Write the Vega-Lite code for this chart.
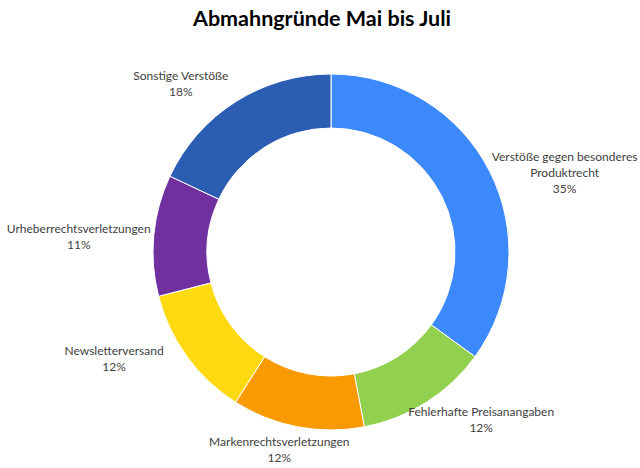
{
  "$schema": "https://vega.github.io/schema/vega-lite/v6.json",
  "autosize": {"type": "fit", "contains": "padding"},
  "width": 640,
  "height": 468,
  "padding": {"left": 17, "right": 0, "top": 8, "bottom": 2},
  "background": "white",
  "title": {
    "text": "Abmahngründe Mai bis Juli",
    "font": "Lato",
    "fontSize": 21.5,
    "fontWeight": "bold",
    "color": "#000000",
    "anchor": "middle",
    "offset": 8,
    "dx": -9
  },
  "data": {
    "values": [
      {"rank": 1, "grund": "Verstöße gegen besonderes Produktrecht", "label": "Verstöße gegen besonderes\nProduktrecht\n35%", "value": 35},
      {"rank": 2, "grund": "Fehlerhafte Preisanangaben", "label": "Fehlerhafte Preisanangaben\n12%", "value": 12},
      {"rank": 3, "grund": "Markenrechtsverletzungen", "label": "Markenrechtsverletzungen\n12%", "value": 12},
      {"rank": 4, "grund": "Newsletterversand", "label": "Newsletterversand\n12%", "value": 12},
      {"rank": 5, "grund": "Urheberrechtsverletzungen", "label": "Urheberrechtsverletzungen\n11%", "value": 11},
      {"rank": 6, "grund": "Sonstige Verstöße", "label": "Sonstige Verstöße\n18%", "value": 18}
    ]
  },
  "encoding": {
    "theta": {"field": "value", "type": "quantitative", "stack": true},
    "order": {"field": "rank", "type": "quantitative"}
  },
  "layer": [
    {
      "mark": {"type": "arc", "outerRadius": 178, "innerRadius": 124, "stroke": "white", "strokeWidth": 1},
      "encoding": {
        "color": {
          "field": "grund",
          "type": "nominal",
          "legend": null,
          "scale": {
            "domain": ["Verstöße gegen besonderes Produktrecht", "Fehlerhafte Preisanangaben", "Markenrechtsverletzungen", "Newsletterversand", "Urheberrechtsverletzungen", "Sonstige Verstöße"],
            "range": ["#3c89fe", "#92d050", "#f99a00", "#ffda10", "#7030a0", "#2b5db3"]
          }
        }
      }
    },
    {
      "mark": {
        "type": "text",
        "font": "Lato",
        "fontSize": 12,
        "color": "#404040",
        "lineBreak": "\n",
        "lineHeight": 16,
        "align": "center",
        "baseline": "middle",
        "radius": {"expr": "194 + 59*abs(sin(PI*(datum.value_start+datum.value_end)/100))"},
        "thetaOffset": {"expr": "0.18*sin(2*PI*(datum.value_start+datum.value_end)/100)"},
        "dy": {"expr": "-8*(length(split(datum.label, '\\n'))-1)"}
      },
      "encoding": {
        "text": {"field": "label", "type": "nominal"}
      }
    }
  ],
  "config": {"view": {"stroke": null}}
}
